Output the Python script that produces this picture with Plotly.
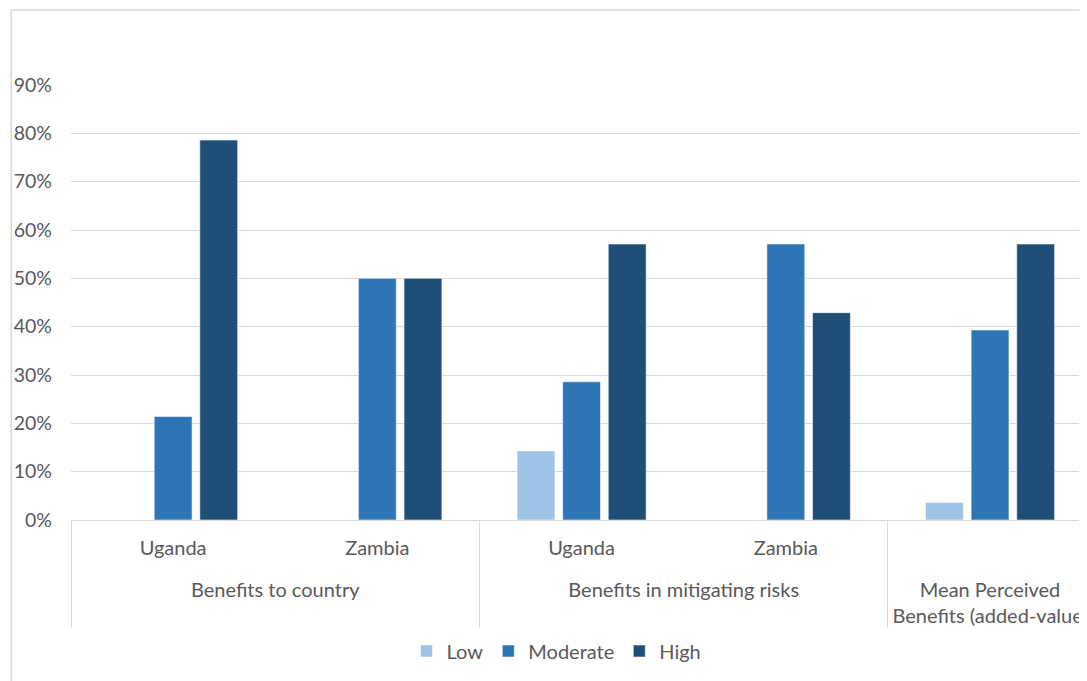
import plotly.graph_objects as go

groups = ["Benefits to country", "Benefits to country",
          "Benefits in mitigating risks", "Benefits in mitigating risks",
          "Mean Perceived<br>Benefits (added-value)"]
countries = ["Uganda<br> ", "Zambia<br> ", "Uganda<br> ", "Zambia<br> ", " <br> "]

low = [0.0, 0.0, 0.143, 0.0, 0.036]
moderate = [0.214, 0.50, 0.286, 0.571, 0.393]
high = [0.786, 0.50, 0.571, 0.429, 0.571]

series = [("Low", low, "#9DC3E6"), ("Moderate", moderate, "#2E75B6"), ("High", high, "#1F4E79")]

tick_vals = [0, 0.1, 0.2, 0.3, 0.4, 0.5, 0.6, 0.7, 0.8, 0.9]
tick_text = ["0%", "10%", "20%", "30%", "40%", "50%", "60%", "70%", "80%", "90%"]

FONT = "Lato"
GREY = "#595959"

fig = go.Figure()
for name, vals, col in series:
    fig.add_trace(go.Bar(
        name=name, x=[groups, countries], y=vals,
        marker=dict(color=col, line=dict(color="rgba(255,255,255,0.55)", width=1)),
    ))

# page has an 8px body margin; compensate so the chart lands where the reference has it
OFF = 8
W, H = 1087 - OFF, 681 - OFF
L, R, T = 71 - OFF, 0, 85 - OFF
B = H - (520 - OFF)
pw, ph = W - L - R, H - T - B

fig.update_layout(
    width=W, height=H,
    margin=dict(l=L, r=R, t=T, b=B, pad=0),
    paper_bgcolor="white", plot_bgcolor="white",
    barmode="group", bargap=0.33, bargroupgap=0.17,
    font=dict(family=FONT, size=20, color=GREY),
    showlegend=True,
    legend=dict(orientation="h", x=(558 - 71) / pw, xanchor="center",
                y=-(651 - 520) / ph, yanchor="middle",
                font=dict(family=FONT, size=20, color=GREY),
                itemwidth=30, tracegroupgap=0),
    xaxis=dict(type="multicategory", range=[-0.5, 4.46],
               showline=True, linecolor="#D9D9D9", linewidth=1,
               showdividers=True, dividercolor="#D9D9D9", dividerwidth=1,
               ticklabelstandoff=10,
               tickfont=dict(family=FONT, size=20, color=GREY),
               showgrid=False, zeroline=False),
    yaxis=dict(range=[0, 0.9], tickvals=tick_vals, ticktext=tick_text,
               showgrid=True, gridcolor="#D9D9D9", gridwidth=1,
               zeroline=False, showline=False,
               ticklabelstandoff=18,
               tickfont=dict(family=FONT, size=19.5, color=GREY)),
    shapes=[dict(type="rect", xref="paper", yref="paper",
                 x0=(11 - 71) / pw, x1=1.2, y0=-0.6, y1=(520 - 10) / ph,
                 line=dict(color="#D9D9D9", width=1.5), fillcolor="rgba(0,0,0,0)",
                 layer="below")],
)

fig.write_html("out.html")
